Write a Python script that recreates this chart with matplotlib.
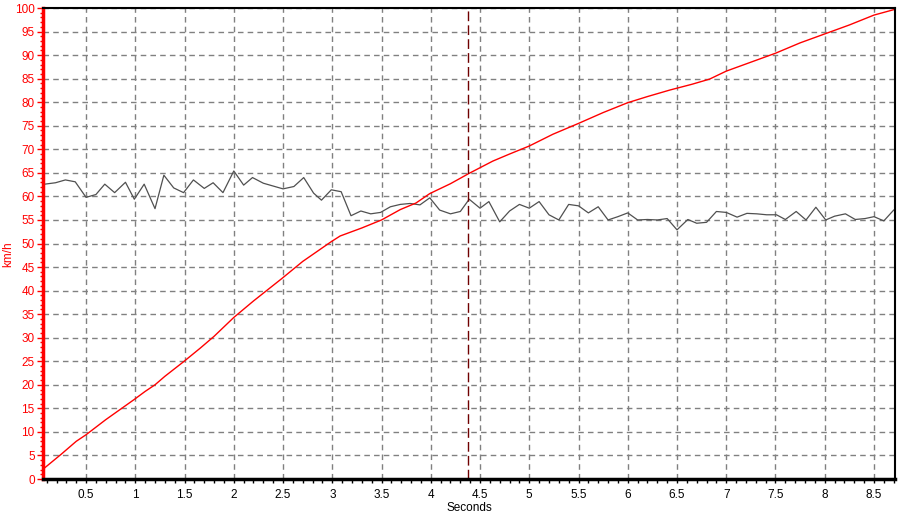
import matplotlib.pyplot as plt
from matplotlib.ticker import MultipleLocator

# speed trace (red), km/h
speed_t = [0.07, 0.25, 0.40, 0.50, 0.70, 0.99, 1.10, 1.20, 1.30, 1.49, 1.66, 1.80,
           2.00, 2.20, 2.49, 2.70, 2.99, 3.08, 3.30, 3.50, 3.69, 3.85, 3.99, 4.20,
           4.39, 4.63, 4.80, 5.00, 5.24, 5.50, 5.75, 6.00, 6.20, 6.43, 6.65, 6.83,
           7.00, 7.25, 7.50, 7.75, 8.00, 8.25, 8.50, 8.71]
speed_v = [2.2, 5.3, 8.0, 9.4, 12.6, 16.9, 18.6, 20.0, 21.8, 24.9, 27.8, 30.3,
           34.3, 37.8, 42.6, 46.2, 50.4, 51.6, 53.3, 55.0, 57.2, 58.6, 60.6, 62.7,
           64.9, 67.5, 69.0, 70.7, 73.2, 75.5, 77.8, 79.9, 81.2, 82.6, 83.8, 84.9,
           86.6, 88.5, 90.4, 92.6, 94.5, 96.4, 98.5, 99.7]

# second trace (dark grey)
trace_t = [0.08, 0.19, 0.29, 0.39, 0.50, 0.60, 0.69, 0.79, 0.90, 0.99, 1.09, 1.20,
           1.29, 1.39, 1.49, 1.59, 1.70, 1.79, 1.89, 2.00, 2.10, 2.19, 2.30, 2.40,
           2.50, 2.61, 2.71, 2.81, 2.89, 2.99, 3.09, 3.19, 3.29, 3.39, 3.49, 3.59,
           3.69, 3.79, 3.89, 3.99, 4.09, 4.20, 4.30, 4.39, 4.50, 4.59, 4.70, 4.80,
           4.90, 5.00, 5.10, 5.20, 5.30, 5.40, 5.50, 5.60, 5.70, 5.80, 5.90, 6.00,
           6.10, 6.20, 6.30, 6.40, 6.50, 6.61, 6.70, 6.80, 6.90, 7.00, 7.11, 7.21,
           7.31, 7.41, 7.51, 7.60, 7.71, 7.81, 7.91, 8.01, 8.10, 8.21, 8.31, 8.41,
           8.50, 8.60, 8.70]
trace_v = [62.6, 62.9, 63.5, 63.1, 59.8, 60.4, 62.6, 60.8, 63.0, 59.4, 62.6, 57.4,
           64.5, 61.8, 60.8, 63.5, 61.7, 62.9, 60.8, 65.4, 62.4, 64.0, 62.8, 62.2,
           61.6, 62.1, 64.0, 60.7, 59.2, 61.4, 61.0, 55.9, 56.9, 56.3, 56.6, 57.8,
           58.3, 58.5, 58.2, 59.7, 57.1, 56.3, 56.8, 59.4, 57.5, 58.9, 54.6, 56.9,
           58.3, 57.5, 58.9, 56.1, 55.0, 58.3, 58.0, 56.5, 57.8, 55.0, 55.7, 56.5,
           55.0, 55.1, 55.0, 55.3, 52.9, 55.1, 54.3, 54.5, 56.8, 56.6, 55.6, 56.4,
           56.3, 56.1, 56.1, 55.1, 56.8, 55.0, 57.7, 55.0, 55.8, 56.3, 55.1, 55.3,
           55.7, 54.8, 57.1]

cursor_t = 4.38
x_ticks = [0.5, 1, 1.5, 2, 2.5, 3, 3.5, 4, 4.5, 5, 5.5, 6, 6.5, 7, 7.5, 8, 8.5]
x_labels = ["0.5", "1", "1.5", "2", "2.5", "3", "3.5", "4", "4.5", "5", "5.5",
            "6", "6.5", "7", "7.5", "8", "8.5"]

plt.rcParams['font.family'] = ['Liberation Sans', 'DejaVu Sans']

fig = plt.figure(figsize=(9.02, 5.17), dpi=100)
ax = fig.add_axes([0.0477, 0.0735, 0.9445, 0.911])

ax.grid(True, which='major', color='#808080', linestyle=(0, (4, 3)), linewidth=1)
ax.set_axisbelow(True)

ax.plot(trace_t, trace_v, color='#505050', linewidth=0.9)
ax.plot(speed_t, speed_v, color='#ff0000', linewidth=1.0)
ax.axvline(cursor_t, color='#700000', linestyle=(0, (7, 3)), linewidth=1.0)

ax.set_xlim(0.063, 8.713)
ax.set_ylim(0, 100)
ax.set_xticks(x_ticks)
ax.set_xticklabels(x_labels)
ax.xaxis.set_minor_locator(MultipleLocator(0.1))
ax.yaxis.set_major_locator(MultipleLocator(5))
ax.yaxis.set_minor_locator(MultipleLocator(1))

ax.tick_params(axis='x', which='both', direction='out', length=3, width=1,
               colors='black', labelsize=8.5, pad=4)
ax.tick_params(axis='y', which='major', direction='out', length=4, width=1,
               color='#ff0000', labelcolor='#ff0000', labelsize=8.5, pad=2)
ax.tick_params(axis='y', which='minor', direction='out', length=2.5, width=1,
               color='#ff0000')

ax.spines['left'].set_color('#ff0000')
ax.spines['left'].set_linewidth(2.5)
ax.spines['bottom'].set_color('black')
ax.spines['bottom'].set_linewidth(2.5)
ax.spines['top'].set_linewidth(1.5)
ax.spines['right'].set_linewidth(1.5)

ax.set_xlabel("Seconds", fontsize=8.5, labelpad=1)
ax.set_ylabel("km/h", fontsize=8.5, color='#ff0000', va='center')
ax.yaxis.set_label_coords(-0.041, 0.478)

fig.savefig("out.png", dpi=100)
